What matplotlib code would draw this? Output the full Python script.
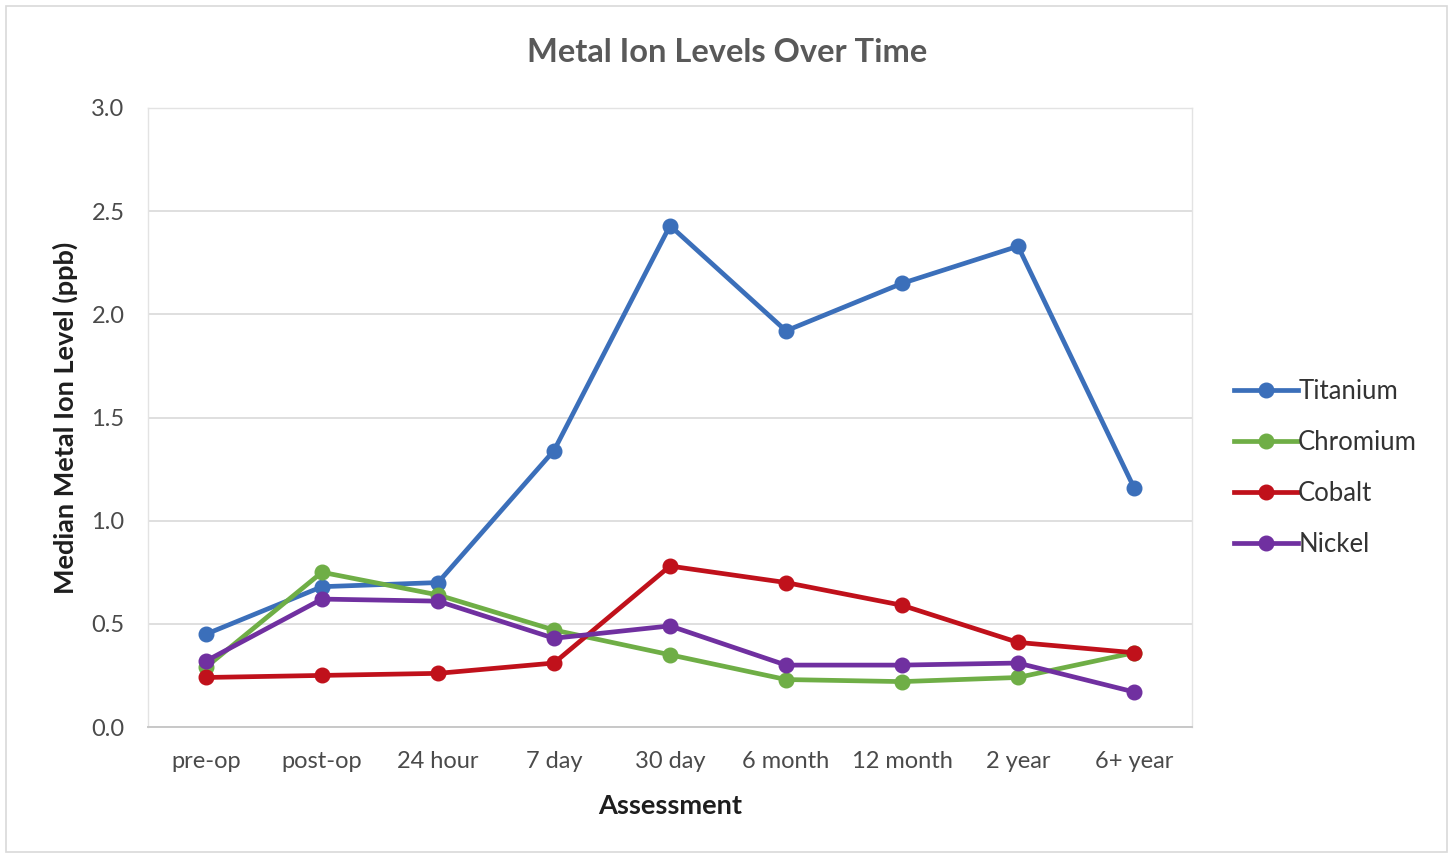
import matplotlib
matplotlib.use("Agg")
import matplotlib.pyplot as plt
from matplotlib.patches import Rectangle

plt.rcParams['font.family'] = ['Lato', 'DejaVu Sans']

assessments = ["pre-op", "post-op", "24 hour", "7 day", "30 day",
               "6 month", "12 month", "2 year", "6+ year"]
titanium = [0.45, 0.68, 0.70, 1.34, 2.43, 1.92, 2.15, 2.33, 1.16]
chromium = [0.29, 0.75, 0.64, 0.47, 0.35, 0.23, 0.22, 0.24, 0.36]
cobalt = [0.24, 0.25, 0.26, 0.31, 0.78, 0.70, 0.59, 0.41, 0.36]
nickel = [0.32, 0.62, 0.61, 0.43, 0.49, 0.30, 0.30, 0.31, 0.17]

series = [
    ("Titanium", titanium, "#3b6fba"),
    ("Chromium", chromium, "#6fae46"),
    ("Cobalt", cobalt, "#c0111b"),
    ("Nickel", nickel, "#7030a0"),
]

W, H = 1453, 858
fig = plt.figure(figsize=(W / 100, H / 100), dpi=100)
fig.patch.set_facecolor("white")

# chart-area frame
fig.add_artist(Rectangle((6 / W, 6 / H), 1 - 12 / W, 1 - 12 / H,
                         transform=fig.transFigure, fill=False,
                         edgecolor="#d9d9d9", linewidth=1.2))

ax = fig.add_axes([148 / W, 1 - 727 / H, (1192 - 148) / W, (727 - 108) / H])
x = list(range(len(assessments)))

for name, vals, col in series:
    ax.plot(x, vals, color=col, linewidth=3.4, marker="o", markersize=10.5,
            label=name, zorder=3)

ax.set_xlim(-0.5, len(assessments) - 0.5)
ax.set_ylim(0, 3.0)
ax.set_yticks([0.0, 0.5, 1.0, 1.5, 2.0, 2.5, 3.0])
ax.set_yticklabels([f"{v:.1f}" for v in ax.get_yticks()])
ax.set_xticks(x)
ax.set_xticklabels(assessments)
ax.grid(axis="y", color="#d9d9d9", linewidth=1.2, zorder=0)
ax.set_axisbelow(True)

for side in ["top", "left", "right"]:
    ax.spines[side].set_color("#e3e3e3")
    ax.spines[side].set_linewidth(1.0)
ax.spines["bottom"].set_color("#c8c8c8")
ax.spines["bottom"].set_linewidth(1.4)

ax.tick_params(axis="both", length=0, labelsize=17, labelcolor="#4a4a4a")
ax.tick_params(axis="x", pad=17)
ax.tick_params(axis="y", pad=17)

ax.set_xlabel("Assessment", fontsize=19.5, fontweight="bold", color="#1e1e1e")
ax.set_ylabel("Median Metal Ion Level (ppb)", fontsize=19.5, fontweight="bold",
              color="#1e1e1e")
ax.xaxis.set_label_coords(0.5, -(806 - 727) / 619, transform=ax.transAxes)
ax.yaxis.set_label_coords(-(148 - 65) / 1044, 0.5, transform=ax.transAxes)
ax.xaxis.label.set_va("center")
ax.yaxis.label.set_va("center")

fig.text(727 / W, 1 - 52 / H, "Metal Ion Levels Over Time", ha="center",
         va="center", fontsize=23.5, fontweight="bold", color="#595959")

leg = ax.legend(loc="center left", bbox_to_anchor=(1234 / W, 1 - 468 / H),
                bbox_transform=fig.transFigure, frameon=False, fontsize=18.5,
                handlelength=2.5, handletextpad=0.0, labelspacing=1.0,
                borderaxespad=0, borderpad=0)
for t in leg.get_texts():
    t.set_color("#333333")

fig.savefig("out.png", dpi=100, facecolor="white")
